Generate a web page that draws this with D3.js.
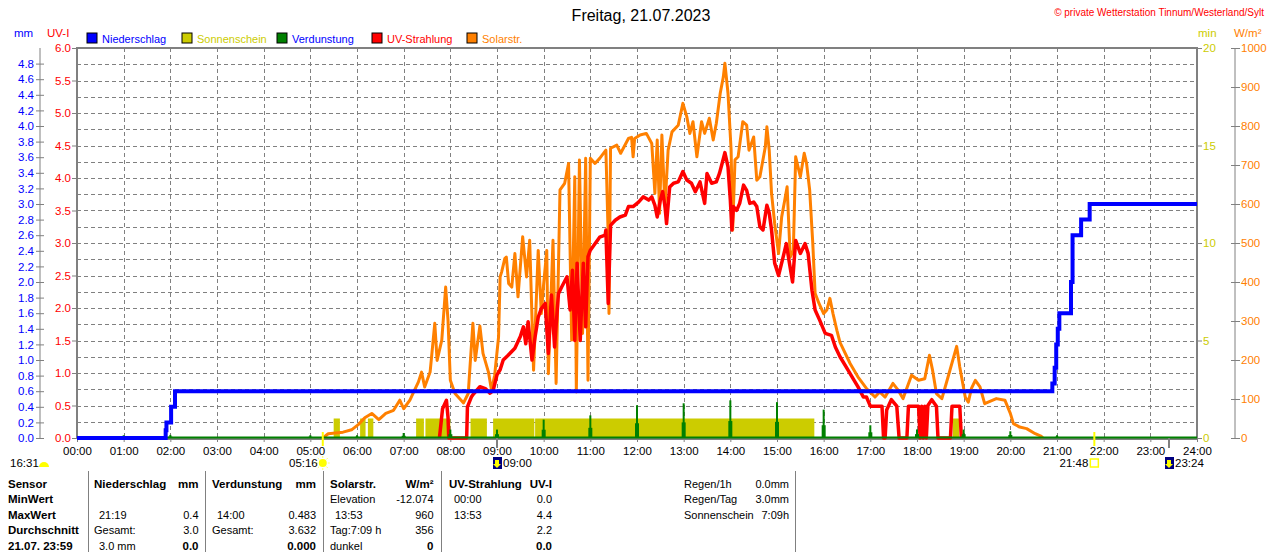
<!DOCTYPE html>
<html>
<head>
<meta charset="utf-8">
<script src="https://cdn.jsdelivr.net/npm/d3@7"></script>
<style>
  body { margin: 0; background: #fff; }
  svg { display: block; }
  .nar { font-family: 'Liberation Sans', Arial, sans-serif; font-size: 11.5px; }
  .reg { font-family: 'Liberation Sans', Arial, sans-serif; font-size: 11px; }
</style>
</head>
<body>
<div id="chart"></div>
<script>
// ---- data ----
const precipData = [["00:00",0],["01:54",0.1],["01:55",0.2],["02:01",0.4],["02:06",0.6],
  ["20:54",0.7],["20:57",0.9],["20:59",1.2],["21:01",1.4],["21:03",1.6],["21:18",2.0],
  ["21:20",2.6],["21:31",2.8],["21:42",3.0],["24:00",3.0]];

const sunshineSpans = [["05:30","05:38"],["06:04","06:11"],["06:14","06:21"],["07:16","07:26"],
  ["07:28","08:00"],["08:26","08:47"],["08:55","09:48"],["09:49","15:48"],["18:46","18:54"]];
const sunshineMinutes = 1;

const evapHours = ["01:00","02:00","05:00","06:00","07:00","08:00","09:00","10:00","11:00","12:00",
  "13:00","14:00","15:00","16:00","17:00","18:00","19:00","20:00","21:00"];
const evapValues = [0.035,0.04,0.035,0.035,0.064,0.108,0.108,0.236,0.29,0.42,
  0.445,0.483,0.46,0.364,0.163,0.11,0.108,0.086,0.035];

const uvData = [["07:46",0],["07:50",0.45],["07:55",0.58],["07:57",0.32],["07:58",0],
  ["08:21",0],["08:22",0.48],["08:27",0.63],["08:30",0.68],["08:38",0.79],["08:45",0.76],["08:51",0.69],
  ["08:55",0.73],["09:00",0.97],["09:04",1.05],["09:08",1.2],["09:14",1.27],["09:23",1.38],["09:30",1.56],
  ["09:34",1.71],["09:37",1.45],["09:40",1.79],["09:45",1.2],["09:49",1.56],["09:53",1.86],["09:57",1.99],
  ["10:02",2.07],["10:06",1.3],["10:10",2.2],["10:14",1.4],["10:19",2.22],["10:23",2.32],["10:30",2.48],
  ["10:34",1.97],["10:37",2.58],["10:40",1.5],["10:43",2.69],["10:47",1.5],["10:51",2.69],["10:54",1.71],
  ["10:57",2.79],["11:00",2.89],["11:06",2.99],["11:12",3.09],["11:19",3.12],["11:20",3.2],["11:23",2.07],
  ["11:26",3.27],["11:32",3.35],["11:38",3.4],["11:45",3.43],["11:49",3.56],["11:55",3.56],["12:02",3.63],
  ["12:08",3.71],["12:15",3.66],["12:19",3.71],["12:23",3.58],["12:26",3.4],["12:30",3.66],["12:33",3.79],
  ["12:36",3.56],["12:38",3.3],["12:42",3.86],["12:47",3.92],["12:53",3.94],["12:59",4.1],["13:04",3.97],
  ["13:10",3.92],["13:15",3.79],["13:21",3.94],["13:27",3.61],["13:30",4.07],["13:36",3.92],["13:42",3.94],
  ["13:46",4.07],["13:50",4.25],["13:53",4.39],["13:57",4.17],["14:00",3.66],["14:02",3.2],["14:04",3.56],
  ["14:08",3.5],["14:12",3.61],["14:17",3.89],["14:21",3.81],["14:25",3.61],["14:30",3.63],["14:34",3.56],
  ["14:38",3.25],["14:42",3.2],["14:47",3.58],["14:50",3.46],["14:53",3.2],["14:57",2.69],["15:02",2.5],
  ["15:07",2.74],["15:12",2.99],["15:16",2.69],["15:20",2.4],["15:24",3.04],["15:30",2.84],["15:36",2.99],
  ["15:40",2.84],["15:45",2.27],["15:49",1.97],["15:55",1.81],["16:02",1.61],["16:10",1.58],["16:15",1.4],
  ["16:21",1.25],["16:30",1.07],["16:38",0.91],["16:44",0.79],["16:51",0.63],["16:55",0.63],["17:00",0.49],
  ["17:15",0.49],["17:17",0],["17:19",0],["17:21",0.43],["17:27",0.59],["17:34",0.49],["17:37",0],
  ["17:47",0],["17:49",0.49],["18:02",0.49],["18:04",0],["18:06",0.49],["18:08",0],["18:10",0.49],
  ["18:12",0],["18:14",0.5],["18:19",0.59],["18:25",0.49],["18:27",0],["18:43",0],["18:45",0.49],
  ["18:55",0.49],["18:57",0]];

const solarData = [["05:16",0],["05:23",11],["05:42",15],["05:53",21],["06:02",35],["06:10",52],
  ["06:19",63],["06:28",47],["06:37",63],["06:47",71],["06:55",97],["07:00",75],["07:08",97],["07:19",144],
  ["07:23",169],["07:27",131],["07:34",169],["07:40",294],["07:43",199],["07:49",251],["07:54",387],
  ["07:57",302],["08:00",148],["08:06",114],["08:17",90],["08:23",114],["08:29",294],["08:32",199],
  ["08:38",287],["08:42",217],["08:49",169],["08:53",122],["08:57",161],["09:02",259],["09:04",413],
  ["09:06",426],["09:10",460],["09:12",464],["09:15",396],["09:19",387],["09:23",473],["09:27",362],
  ["09:33",516],["09:38",413],["09:42",507],["09:47",174],["09:53",481],["09:57",319],["10:00",396],
  ["10:04",481],["10:06",165],["10:12",507],["10:16",140],["10:21",636],["10:27",653],["10:32",704],
  ["10:36",251],["10:40",670],["10:42",118],["10:46",713],["10:50",268],["10:54",717],["10:57",148],
  ["11:00",717],["11:06",704],["11:12",717],["11:20",738],["11:23",516],["11:24",319],["11:26",743],
  ["11:34",751],["11:39",730],["11:49",768],["11:53",771],["11:55",721],["11:57",768],["12:04",777],
  ["12:12",781],["12:19",755],["12:23",627],["12:26",764],["12:29",576],["12:32",777],["12:36",593],
  ["12:40",738],["12:45",785],["12:53",802],["12:59",858],["13:04",824],["13:08",781],["13:12",811],
  ["13:17",721],["13:23",811],["13:27",781],["13:33",820],["13:38",764],["13:42",807],["13:47",884],
  ["13:51",926],["13:53",961],["13:57",884],["14:01",738],["14:03",533],["14:06",713],["14:10",721],
  ["14:16",811],["14:21",802],["14:24",738],["14:30",772],["14:34",661],["14:38",670],["14:45",747],
  ["14:47",798],["14:50",738],["14:53",627],["14:57",550],["15:02",473],["15:06",567],["15:10",610],
  ["15:13",644],["15:17",464],["15:21",481],["15:24",721],["15:30",670],["15:35",730],["15:38",704],
  ["15:42",636],["15:46",499],["15:49",371],["15:54",345],["16:00",319],["16:04",328],["16:08",358],
  ["16:12",319],["16:17",276],["16:21",245],["16:34",191],["16:44",157],["16:55",127],["17:06",105],
  ["17:12",118],["17:19",105],["17:29",140],["17:36",122],["17:42",101],["17:53",161],["18:02",148],
  ["18:10",152],["18:16",212],["18:20",174],["18:25",114],["18:32",101],["18:40",157],["18:51",235],
  ["18:55",182],["19:02",105],["19:06",92],["19:10",127],["19:15",148],["19:21",131],["19:27",88],
  ["19:42",101],["19:53",97],["20:00",63],["20:04",37],["20:12",28],["20:21",24],["20:32",11],
  ["20:40",4],["20:42",0]];

const hourLabels = d3.range(0, 25).map(h => String(h).padStart(2, "0") + ":00");
const mmTicks = d3.range(0, 4.81, 0.2);
const uvTicks = d3.range(0, 6.01, 0.5);
const minTicks = [0, 5, 10, 15, 20];
const wTicks = d3.range(0, 1001, 100);

const legendItems = [
  { name: "Niederschlag", fill: "#0000ff", text: "#0000ff" },
  { name: "Sonnenschein", fill: "#cccc00", text: "#cccc00" },
  { name: "Verdunstung", fill: "#008000", text: "#0000ff" },
  { name: "UV-Strahlung", fill: "#ff0000", text: "#ff0000" },
  { name: "Solarstr.", fill: "#ff8000", text: "#ff8000" }
];

const astroMarks = [["16:31", "moon"], ["05:16", "sunrise"], ["09:00", "moonrise"], ["21:48", "sunset"], ["23:24", "moonset"]];

const tableRows = [
  ["Sensor", "Niederschlag", "mm", "Verdunstung", "mm", "Solarstr.", "W/m²", "UV-Strahlung", "UV-I"],
  ["MinWert", "", "", "", "", "Elevation", "-12.074", "00:00", "0.0"],
  ["MaxWert", "21:19", "0.4", "14:00", "0.483", "13:53", "960", "13:53", "4.4"],
  ["Durchschnitt", "Gesamt:", "3.0", "Gesamt:", "3.632", "Tag:7:09 h", "356", "", "2.2"],
  ["21.07.  23:59", "3.0 mm", "0.0", "", "0.000", "dunkel", "0", "", "0.0"]
];
const summaryRows = [["Regen/1h", "0.0mm"], ["Regen/Tag", "3.0mm"], ["Sonnenschein", "7:09h"]];

// ---- helpers ----
const toMin = t => { const p = t.split(":").map(Number); return p[0] * 60 + p[1]; };

const W = 1280, H = 552;
const pLeft = 77, pRight = 1197, pTop = 48, pBottom = 438;
const grey = "#808080";

const svg = d3.select("#chart").append("svg")
  .attr("width", W).attr("height", H)
  .style("background", "#fff");

const x = d3.scaleLinear().domain([0, 1440]).range([pLeft, pRight]);
const yUV = d3.scaleLinear().domain([0, 6]).range([pBottom, pTop]);
const yMM = d3.scaleLinear().domain([0, 5]).range([pBottom, pTop]);
const yMin = d3.scaleLinear().domain([0, 20]).range([pBottom, pTop]);
const yW = d3.scaleLinear().domain([0, 1000]).range([pBottom, pTop]);

// title & header
svg.append("text").attr("x", 641).attr("y", 21).attr("text-anchor", "middle")
  .style("font-family", "'Liberation Sans', Arial, sans-serif").style("font-size", "16px")
  .text("Freitag, 21.07.2023");
svg.append("text").attr("class", "nar").attr("x", 1264).attr("y", 16).attr("text-anchor", "end")
  .attr("fill", "#ff0000").style("font-size", "10px")
  .text("© private Wetterstation Tinnum/Westerland/Sylt");

svg.append("text").attr("class", "nar").attr("x", 14).attr("y", 37).attr("fill", "#0000ff").text("mm");
svg.append("text").attr("class", "nar").attr("x", 47).attr("y", 37).attr("fill", "#ff0000").text("UV-I");
svg.append("text").attr("class", "nar").attr("x", 1198).attr("y", 37).attr("fill", "#cccc00").text("min");
svg.append("text").attr("class", "nar").attr("x", 1234).attr("y", 37).attr("fill", "#ff8000").text("W/m²");

// legend
const legendX = [87, 182, 277, 372, 467];
const lg = svg.selectAll("g.legend").data(legendItems).enter().append("g")
  .attr("transform", (d, i) => `translate(${legendX[i]},33)`);
lg.append("rect").attr("width", 10).attr("height", 10)
  .attr("fill", d => d.fill).attr("stroke", "#000").attr("stroke-width", 1);
lg.append("text").attr("class", "nar").attr("x", 15).attr("y", 9.5).style("font-size", "11px")
  .attr("fill", d => d.text).text(d => d.name);

// grid
const grid = svg.append("g").attr("stroke", grey).attr("stroke-dasharray", "4,3").attr("stroke-width", 1);
grid.selectAll("line.h").data(d3.range(0.25, 6, 0.25)).enter().append("line")
  .attr("x1", pLeft).attr("x2", pRight)
  .attr("y1", d => Math.round(yUV(d)) + 0.5).attr("y2", d => Math.round(yUV(d)) + 0.5);
grid.selectAll("line.v").data(d3.range(1, 24)).enter().append("line")
  .attr("y1", pTop).attr("y2", pBottom)
  .attr("x1", d => Math.round(x(d * 60)) + 0.5).attr("x2", d => Math.round(x(d * 60)) + 0.5);

// frame
svg.append("path")
  .attr("d", `M${pLeft},${pBottom + 1}V${pTop}H${pRight}V${pBottom + 1}H${pLeft}`)
  .attr("fill", "none").attr("stroke", grey).attr("stroke-width", 2);

// axes
const axisFont = sel => sel.selectAll("text").attr("class", "nar").attr("font-family", null).attr("font-size", null);

const uvAxis = svg.append("g").attr("transform", `translate(${pLeft},0)`)
  .call(d3.axisLeft(yUV).tickValues(uvTicks).tickFormat(d3.format(".1f")).tickSize(5).tickPadding(1));
uvAxis.select(".domain").remove();
uvAxis.selectAll("line").attr("stroke", grey);
uvAxis.selectAll("text").attr("fill", "#ff0000");

svg.append("line").attr("x1", 40).attr("x2", 40).attr("y1", pTop).attr("y2", pBottom).attr("stroke", grey);
const mmAxis = svg.append("g").attr("transform", "translate(44,0)")
  .call(d3.axisLeft(yMM).tickValues(mmTicks).tickFormat(d3.format(".1f")).tickSize(8).tickPadding(2));
mmAxis.select(".domain").remove();
mmAxis.selectAll("line").attr("stroke", grey);
mmAxis.selectAll("text").attr("fill", "#0000ff");

const minAxis = svg.append("g").attr("transform", `translate(${pRight},0)`)
  .call(d3.axisRight(yMin).tickValues(minTicks).tickSize(5).tickPadding(1));
minAxis.select(".domain").remove();
minAxis.selectAll("line").attr("stroke", grey);
minAxis.selectAll("text").attr("fill", "#cccc00");

svg.append("line").attr("x1", 1235).attr("x2", 1235).attr("y1", pTop).attr("y2", pBottom).attr("stroke", grey);
const wAxis = svg.append("g").attr("transform", "translate(1231,0)")
  .call(d3.axisRight(yW).tickValues(wTicks).tickFormat(d3.format("d")).tickSize(9).tickPadding(1));
wAxis.select(".domain").remove();
wAxis.selectAll("line").attr("stroke", grey);
wAxis.selectAll("text").attr("fill", "#ff8000");

const xAxis = svg.append("g").attr("transform", `translate(0,${pBottom})`)
  .call(d3.axisBottom(x).tickValues(d3.range(0, 1441, 60)).tickFormat((d, i) => hourLabels[i])
    .tickSize(4).tickPadding(5));
xAxis.select(".domain").remove();
xAxis.selectAll("line").attr("stroke", grey);
xAxis.selectAll("text").attr("fill", "#000");

[uvAxis, mmAxis, minAxis, wAxis, xAxis].forEach(axisFont);

// sunshine
svg.append("g").selectAll("rect").data(sunshineSpans).enter().append("rect")
  .attr("x", d => x(toMin(d[0])))
  .attr("width", d => x(toMin(d[1])) - x(toMin(d[0])))
  .attr("y", yMin(sunshineMinutes))
  .attr("height", yMin(0) - yMin(sunshineMinutes))
  .attr("fill", "#cccc00");

// solar radiation
svg.append("path").datum(solarData)
  .attr("fill", "none").attr("stroke", "#ff8000").attr("stroke-width", 3).attr("stroke-linejoin", "round")
  .attr("d", d3.line().x(d => x(toMin(d[0]))).y(d => yW(d[1])));

// UV
svg.append("path").datum(uvData)
  .attr("fill", "none").attr("stroke", "#ff0000").attr("stroke-width", 3.5).attr("stroke-linejoin", "round")
  .attr("d", d3.line().x(d => x(toMin(d[0]))).y(d => yUV(d[1])));

// evaporation
svg.append("line").attr("x1", pLeft).attr("x2", pRight).attr("y1", pBottom - 0.5).attr("y2", pBottom - 0.5)
  .attr("stroke", "#008000").attr("stroke-width", 2);
const evap = svg.append("g").attr("fill", "#008000");
evap.selectAll("rect.thin").data(evapHours).enter().append("rect")
  .attr("x", d => x(toMin(d)) - 1).attr("width", 2)
  .attr("y", (d, i) => yMM(evapValues[i])).attr("height", (d, i) => yMM(0) - yMM(evapValues[i]));
evap.selectAll("rect.wide").data(evapHours).enter().append("rect")
  .attr("x", d => x(toMin(d)) - 2).attr("width", 4)
  .attr("y", (d, i) => yMM(evapValues[i] * 0.45)).attr("height", (d, i) => yMM(0) - yMM(evapValues[i] * 0.45));

// precipitation
svg.append("path").datum(precipData)
  .attr("fill", "none").attr("stroke", "#0000ff").attr("stroke-width", 4)
  .attr("d", d3.line().curve(d3.curveStepAfter).x(d => x(toMin(d[0]))).y(d => yMM(d[1])));

// sunrise / sunset / moon marks
const markY = 463;
astroMarks.forEach(([t, kind]) => {
  const mx = kind === "moon" ? 44 : x(toMin(t));
  const g = svg.append("g");
  if (kind === "sunrise" || kind === "sunset") {
    g.append("rect").attr("x", mx - 1).attr("y", 432).attr("width", 2).attr("height", 14).attr("fill", "#ffff00");
  } else if (kind !== "moon") {
    g.append("rect").attr("x", mx - 1).attr("y", pBottom).attr("width", 2).attr("height", 10).attr("fill", grey);
  }
  if (kind === "moon") {
    g.append("path").attr("d", `M${mx - 5},${markY + 4}A5,5 0 0 1 ${mx + 5},${markY + 4}Z`).attr("fill", "#ffff00");
    g.append("text").attr("class", "nar").attr("x", 10).attr("y", markY + 4).text(t);
  } else if (kind === "sunrise") {
    g.append("circle").attr("cx", mx).attr("cy", markY).attr("r", 4).attr("fill", "#ffff00");
    g.selectAll("line").data(d3.range(8)).enter().append("line")
      .attr("x1", a => mx + Math.cos(a * Math.PI / 4) * 5).attr("y1", a => markY + Math.sin(a * Math.PI / 4) * 5)
      .attr("x2", a => mx + Math.cos(a * Math.PI / 4) * 7).attr("y2", a => markY + Math.sin(a * Math.PI / 4) * 7)
      .attr("stroke", "#ffff66");
    g.append("text").attr("class", "nar").attr("x", mx - 5).attr("y", markY + 4).attr("text-anchor", "end").text(t);
  } else if (kind === "sunset") {
    g.append("rect").attr("x", mx - 4).attr("y", markY - 4).attr("width", 8).attr("height", 8)
      .attr("fill", "none").attr("stroke", "#ffff00").attr("stroke-width", 1.5);
    g.append("text").attr("class", "nar").attr("x", mx - 6).attr("y", markY + 4).attr("text-anchor", "end").text(t);
  } else {
    g.append("rect").attr("x", mx - 4).attr("y", markY - 6).attr("width", 9).attr("height", 12).attr("fill", "#000080");
    g.append("path").attr("d", `M${mx - 2},${markY - 3}h4v4h2l-4,4l-4,-4h2Z`).attr("fill", "#ffff00");
    g.append("text").attr("class", "nar").attr("x", mx + 6).attr("y", markY + 4).text(t);
  }
});

// bottom table
const sepX = [88.5, 205.5, 323.5, 441.5, 795.5];
svg.append("g").selectAll("line").data(sepX).enter().append("line")
  .attr("x1", d => d).attr("x2", d => d).attr("y1", 471).attr("y2", H)
  .attr("stroke", grey);

const colX = [8, 94, 198.5, 212, 316, 330, 433.5, 449, 552];
const colEnd = [false, false, true, false, true, false, true, false, true];
const rowY = [487.5, 503, 518.5, 534, 549.5];
tableRows.forEach((row, r) => {
  row.forEach((cell, c) => {
    if (!cell) return;
    const indent = (r > 0 && !colEnd[c] && c > 0 && /^\d/.test(cell)) ? 5 : 0;
    const bold = r === 0 || c === 0 || (r === 4 && colEnd[c]);
    svg.append("text").attr("class", "reg")
      .attr("x", colX[c] + indent).attr("y", rowY[r])
      .attr("text-anchor", colEnd[c] ? "end" : "start")
      .style("font-weight", bold ? "bold" : "normal")
      .style("font-size", bold ? "11.5px" : "11px")
      .text(cell);
  });
});
summaryRows.forEach((row, r) => {
  svg.append("text").attr("class", "reg").attr("x", 684).attr("y", rowY[r]).text(row[0]);
  svg.append("text").attr("class", "reg").attr("x", 789).attr("y", rowY[r]).attr("text-anchor", "end").text(row[1]);
});
</script>
</body>
</html>
